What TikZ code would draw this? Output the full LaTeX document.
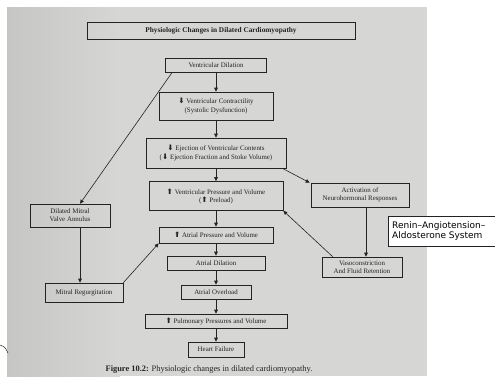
\documentclass[tikz,border=0pt]{standalone}
\usepackage{fontspec}
\setmainfont{Liberation Serif}
\newfontfamily\symfont{DejaVu Sans}
\newfontfamily\macfont{DejaVu Sans}
\usetikzlibrary{arrows.meta}
\definecolor{pagegray}{RGB}{214,214,212}
\definecolor{pagedark}{RGB}{198,198,196}
\definecolor{inkc}{RGB}{35,35,35}
\newcommand{\dnar}{{\symfont\fontsize{7.5}{7}\selectfont ⬇}}
\newcommand{\upar}{{\symfont\fontsize{7.5}{7}\selectfont ⬆}}
\tikzset{
  bx/.style={draw=inkc, line width=0.6pt, inner sep=0pt, align=center,
    text=inkc, font=\fontsize{6.9}{8.2}\selectfont},
  arr/.style={draw=inkc, line width=0.6pt, -{Triangle[length=4pt,width=3.6pt]}},
}
\begin{document}
\begin{tikzpicture}[x=1pt,y=-1pt]
\useasboundingbox (0,0) rectangle (495,376);
\fill[white] (0,0) rectangle (495,376);
\shade[left color=pagedark, right color=pagegray] (7,7) rectangle (120,376);
\fill[pagegray] (120,7) rectangle (427,376);
\draw[inkc, line width=0.5pt] (0,345) .. controls (5,347) .. (8,353);

% title
\node[bx, minimum width=268pt, minimum height=17pt, font=\bfseries\fontsize{7.3}{8}\selectfont] (title) at (221,30.5) {Physiologic Changes in Dilated Cardiomyopathy};

% main column
\node[bx, minimum width=101pt, minimum height=14pt] (vd) at (216,65) {Ventricular Dilation};
\node[bx, minimum width=114pt, minimum height=28pt] (vc) at (216,106) {\dnar\ Ventricular Contractility\\(Systolic Dysfunction)};
\node[bx, minimum width=140pt, minimum height=30pt] (ej) at (216,153) {\dnar\ Ejection of Ventricular Contents\\(\dnar\ Ejection Fraction and Stoke Volume)};
\node[bx, minimum width=134pt, minimum height=29pt] (vp) at (216,196) {\upar\ Ventricular Pressure and Volume\\(\upar\ Preload)};
\node[bx, minimum width=114pt, minimum height=16pt] (ap) at (216,235) {\upar\ Atrial Pressure and Volume};
\node[bx, minimum width=98pt, minimum height=14pt] (ad) at (216,263) {Atrial Dilation};
\node[bx, minimum width=70pt, minimum height=14pt] (ao) at (216,292) {Atrial Overload};
\node[bx, minimum width=142pt, minimum height=14pt] (pu) at (216,321) {\upar\ Pulmonary Pressures and Volume};
\node[bx, minimum width=56pt, minimum height=15pt] (hf) at (216,349.5) {Heart Failure};

% right side
\node[bx, minimum width=98pt, minimum height=24pt] (act) at (360,195) {Activation of\\Neurohormonal Responses};
\node[bx, minimum width=80pt, minimum height=20pt] (vaso) at (362,267) {Vasoconstriction\\And Fluid Retention};

% left side
\node[bx, minimum width=80pt, minimum height=23pt] (dm) at (70,215.5) {Dilated Mitral\\Valve Annulus};
\node[bx, minimum width=78pt, minimum height=19pt] (mr) at (84,292.5) {Mitral Regurgitation};

% connectors
\draw[arr] (vd) -- (vc);
\draw[arr] (vc) -- (ej);
\draw[arr] (ej) -- (vp);
\draw[arr] (vp) -- (ap);
\draw[arr] (ap) -- (ad);
\draw[arr] (ad) -- (ao);
\draw[arr] (ao) -- (pu);
\draw[arr] (pu) -- (hf);
\draw[arr] ([xshift=-4pt]ej.south east) -- ([xshift=-1pt]act.north west);
\draw[arr] ([xshift=6pt]act.south) -- ([xshift=4pt]vaso.north);
\draw[arr] ([xshift=11pt]vaso.north west) -- (vp.south east);
\draw[arr] ([xshift=7pt]vd.south west) -- ([xshift=10pt]dm.north);
\draw[arr] ([xshift=10pt]dm.south) -- ([xshift=-4pt]mr.north);
\draw[arr] (mr.north east) -- (ap.south west);

% overlay label
\node[draw=inkc, line width=0.5pt, fill=white, anchor=north west, minimum width=115pt, minimum height=30pt, inner sep=0pt] (raasbox) at (388,216) {};
\node[anchor=west, align=left, inner sep=0pt, font=\macfont\fontsize{9}{10.5}\selectfont, text=black] (raas) at (392,231) {Renin–Angiotension–\\Aldosterone System};

% caption
\node[inner sep=0pt, text=inkc, font=\fontsize{8.4}{9}\selectfont] (cap) at (209,369.5) {\textbf{Figure 10.2:} Physiologic changes in dilated cardiomyopathy.};
\end{tikzpicture}
\end{document}
